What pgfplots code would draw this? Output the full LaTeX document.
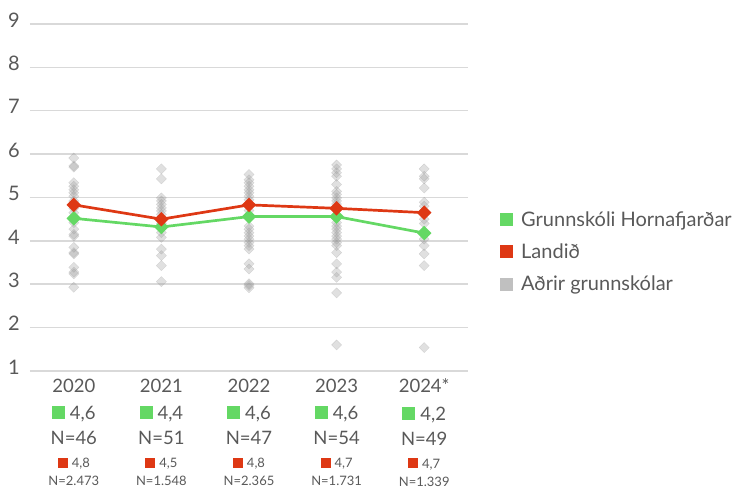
\documentclass[border=0pt]{standalone}
\usepackage{fontspec}
\setmainfont{Lato}
\usepackage{pgfplots}
\pgfplotsset{compat=1.18}
\definecolor{cgreen}{RGB}{100,216,100}
\definecolor{cred}{RGB}{222,56,20}
\definecolor{cgray}{RGB}{192,192,192}
\definecolor{cgrid}{RGB}{217,217,217}
\definecolor{txt}{RGB}{89,89,89}
\newcommand\lab[5]{\renewcommand\arraystretch{0}\begin{tabular}{@{}c@{}}
\fontsize{18.5}{18}\selectfont\rule[-14pt]{0pt}{27pt}#1\\
\fontsize{18.5}{18}\selectfont\rule[-12pt]{0pt}{25pt}{\color{cgreen}\rule{13pt}{13pt}}\hspace{5pt}#2\\
\fontsize{18.5}{18}\selectfont\rule[-10pt]{0pt}{23pt}N=#3\\
\fontsize{13}{13}\selectfont\rule[-8pt]{0pt}{21pt}{\color{cred}\rule{10pt}{10pt}}\hspace{4pt}#4\\
\fontsize{13}{13}\selectfont\rule[-4pt]{0pt}{14pt}N=#5
\end{tabular}}
\begin{document}
\begin{tikzpicture}
\path[use as bounding box] (-30pt,-118pt) rectangle (707pt,371pt);
\begin{axis}[
  scale only axis, width=438pt, height=347pt,
  xmin=-0.5, xmax=4.5, ymin=1, ymax=9,
  axis line style={draw=none}, tick style={draw=none},
  major tick length=0pt,
  ymajorgrids, grid style={cgrid, line width=1.5pt},
  xtick={0,1,2,3,4}, ytick={1,2,...,9},
  xticklabels={{\lab{2020}{4,6}{46}{4,8}{2.473}},{\lab{2021}{4,4}{51}{4,5}{1.548}},{\lab{2022}{4,6}{47}{4,8}{2.365}},{\lab{2023}{4,6}{54}{4,7}{1.731}},{\lab{2024*}{4,2}{49}{4,7}{1.339}}},
  xticklabel style={anchor=north, inner sep=0pt, yshift=-7.5pt, text=txt},
  /pgf/number format/assume math mode=true,
  yticklabel style={anchor=east, inner sep=0pt, xshift=-10pt, yshift=4pt, text=txt, font=\fontsize{20}{20}\selectfont},
  clip=false,
  legend style={at={(1,0.343)}, anchor=west, xshift=32pt, draw=none, fill=none, inner sep=0pt,
    font=\fontsize{20}{20}\selectfont, text=txt, row sep=12pt,
    nodes={inner xsep=8pt}},
  legend cell align=left,
]
\addplot[only marks, mark=square*, mark size=3.6pt, color=black!40, opacity=0.3, mark options={rotate=45}, forget plot] table {
x y
0 5.91
0 5.73
0 5.70
0 5.34
0 5.26
0 5.18
0 5.11
0 5.03
0 4.92
0 4.85
0 4.75
0 4.65
0 4.42
0 4.27
0 4.15
0 4.11
0 3.85
0 3.73
0 3.70
0 3.39
0 3.28
0 3.24
0 2.93
1 5.66
1 5.43
1 4.99
1 4.92
1 4.84
1 4.76
1 4.69
1 4.61
1 4.40
1 4.19
1 4.08
1 3.81
1 3.66
1 3.43
1 3.06
2 5.53
2 5.41
2 5.34
2 5.26
2 5.18
2 5.11
2 5.03
2 4.95
2 4.70
2 4.34
2 4.27
2 4.19
2 4.11
2 4.04
2 3.96
2 3.89
2 3.81
2 3.47
2 3.35
2 3.01
2 2.97
2 2.92
3 5.75
3 5.66
3 5.57
3 5.49
3 5.30
3 5.14
3 5.07
3 4.99
3 4.92
3 4.85
3 4.42
3 4.34
3 4.27
3 4.19
3 4.11
3 4.04
3 3.96
3 3.89
3 3.73
3 3.47
3 3.28
3 3.16
3 2.80
3 1.60
4 5.66
4 5.49
4 5.43
4 5.22
4 4.89
4 4.80
4 4.50
4 4.40
4 4.04
4 3.89
4 3.70
4 3.43
4 1.54
};
\addplot[cgreen, line width=2.7pt, mark=square*, mark size=3.8pt, mark options={rotate=45, draw=none, fill=cgreen}, forget plot] coordinates {
(0,4.52) (1,4.32) (2,4.56) (3,4.56) (4,4.18)};
\addplot[cred, line width=2.7pt, mark=square*, mark size=3.8pt, mark options={rotate=45, draw=none, fill=cred}, forget plot] coordinates {
(0,4.83) (1,4.50) (2,4.83) (3,4.75) (4,4.65)};
\addlegendimage{draw=none, fill=cgreen, legend image code/.code={\fill (0pt,-6.5pt) rectangle (13pt,6.5pt);}}
\addlegendentry{Grunnskóli Hornafjarðar}
\addlegendimage{draw=none, fill=cred, legend image code/.code={\fill (0pt,-6.5pt) rectangle (13pt,6.5pt);}}
\addlegendentry{Landið}
\addlegendimage{draw=none, fill=cgray, legend image code/.code={\fill (0pt,-6.5pt) rectangle (13pt,6.5pt);}}
\addlegendentry{Aðrir grunnskólar}
\end{axis}
\end{tikzpicture}
\end{document}
